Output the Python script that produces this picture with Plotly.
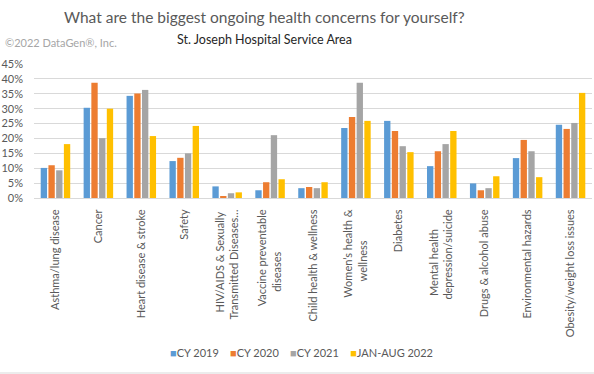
import plotly.graph_objects as go

NB = "\u00a0"  # non-breaking space used to centre the shorter line of rotated labels

categories = [
    "Asthma/lung disease",
    "Cancer",
    "Heart disease & stroke",
    "Safety",
    "HIV/AIDS & Sexually" + NB * 1 + "<br>Transmitted Diseases…",
    "Vaccine preventable<br>diseases" + NB * 15,
    "Child health & wellness",
    "Women’s health &<br>wellness" + NB * 11,
    "Diabetes",
    "Mental health" + NB * 7 + "<br>depression/suicide",
    "Drugs & alcohol abuse",
    "Environmental hazards",
    "Obesity/weight loss issues",
]

cy2019 = [10.1, 30.3, 34.3, 12.4, 3.9, 2.6, 3.3, 23.5, 25.9, 10.7, 4.9, 13.4, 24.6]
cy2020 = [11.0, 38.7, 35.1, 13.5, 0.6, 5.3, 3.7, 27.2, 22.5, 15.7, 2.6, 19.5, 23.2]
cy2021 = [9.3, 20.1, 36.3, 15.0, 1.6, 21.1, 3.3, 38.7, 17.4, 18.1, 3.3, 15.7, 25.2]
jan_aug_2022 = [18.1, 30.0, 20.8, 24.2, 1.9, 6.3, 5.3, 25.9, 15.4, 22.5, 7.3, 7.0, 35.3]

series_names = ["CY 2019", "CY 2020", "CY 2021", "JAN-AUG 2022"]
series_values = [cy2019, cy2020, cy2021, jan_aug_2022]
colors = ["#5B9BD5", "#ED7D31", "#A5A5A5", "#FFC000"]

y_tick_vals = [0, 5, 10, 15, 20, 25, 30, 35, 40, 45]
y_tick_text = [f"{v}%" for v in y_tick_vals]

FONT = "Lato"

# plot area geometry (pixels)
L, R, T, B = 34, 2, 64, 176
W, H = 594, 374
PW, PH = W - L - R, H - T - B


def px_x(x):
    return (x - L) / PW


def px_y(y):
    return (H - B - y) / PH


fig = go.Figure()
for name, vals, col in zip(series_names, series_values, colors):
    fig.add_trace(go.Bar(x=categories, y=vals, name=name, marker_color=col,
                         marker_line_width=0, showlegend=False))

legend_text = "&nbsp;&nbsp;&nbsp;&nbsp;".join(
    f"<span style='color:{c}'>■</span>{n}" for n, c in zip(series_names, colors)
)

fig.update_layout(
    width=W, height=H,
    margin=dict(l=L, r=R, t=T, b=B, autoexpand=False),
    paper_bgcolor="white", plot_bgcolor="white",
    barmode="group", bargap=0.28, bargroupgap=0.18,
    font=dict(family=FONT, color="#595959", size=11),
    showlegend=False,
    annotations=[
        dict(text="What are the biggest ongoing health concerns for yourself?",
             xref="paper", yref="paper", x=px_x(264), y=px_y(17),
             xanchor="center", yanchor="middle", showarrow=False,
             font=dict(family=FONT, size=15.5, color="#595959")),
        dict(text="St. Joseph Hospital Service Area",
             xref="paper", yref="paper", x=px_x(264), y=px_y(39),
             xanchor="center", yanchor="middle", showarrow=False,
             font=dict(family=FONT, size=12.5, color="#262626")),
        dict(text="©2022 DataGen®, Inc.",
             xref="paper", yref="paper", x=px_x(3), y=px_y(42),
             xanchor="left", yanchor="middle", showarrow=False,
             font=dict(family=FONT, size=11, color="#A6A6A6")),
        dict(text=legend_text,
             xref="paper", yref="paper", x=px_x(301), y=px_y(352),
             xanchor="center", yanchor="middle", showarrow=False,
             font=dict(family=FONT, size=11, color="#595959")),
    ],
    shapes=[
        dict(type="line", xref="paper", yref="paper",
             x0=px_x(0), x1=px_x(W), y0=px_y(373), y1=px_y(373),
             line=dict(color="#D9D9D9", width=1)),
    ],
)

fig.update_yaxes(range=[0, 45], tickvals=y_tick_vals, ticktext=y_tick_text,
                 showgrid=True, gridcolor="#D9D9D9", gridwidth=1,
                 zeroline=False, ticks="", ticklabelstandoff=10, automargin=False,
                 tickfont=dict(size=11, color="#595959"))
fig.update_xaxes(tickangle=-90, showline=True, linecolor="#D9D9D9",
                 ticks="", ticklabelstandoff=6, automargin=False,
                 tickfont=dict(size=11, color="#595959"))

fig.write_html(
    "out.html",
    config={"displayModeBar": False},
    post_script="document.body.style.margin='0';document.body.style.overflow='hidden';",
)
